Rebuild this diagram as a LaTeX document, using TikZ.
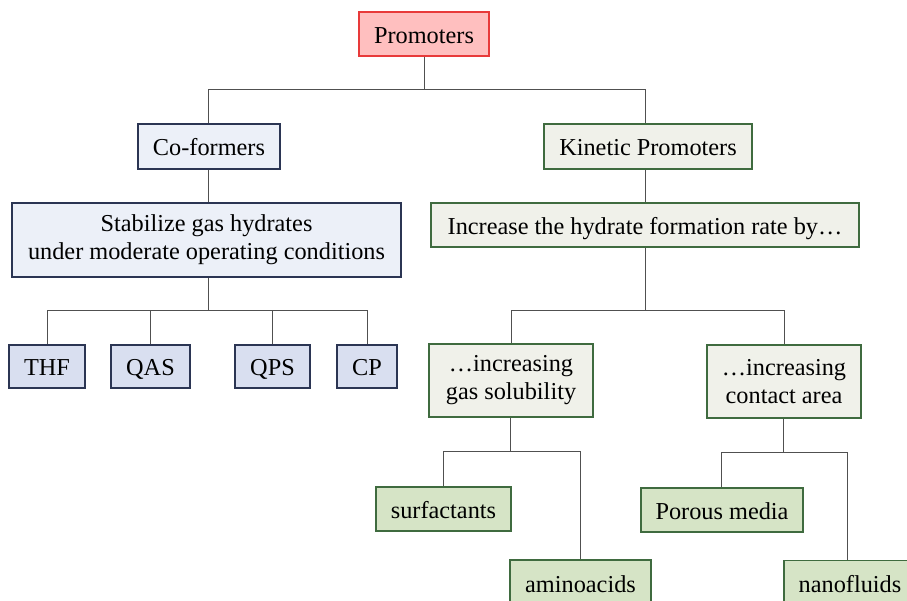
\documentclass[tikz,border=0pt]{standalone}
\usepackage{fontspec}
\setmainfont{Liberation Serif}
\definecolor{promfill}{HTML}{FFBFBF}
\definecolor{promdraw}{HTML}{E83A3A}
\definecolor{bluefill}{HTML}{ECF0F8}
\definecolor{blueleaf}{HTML}{D9DFF0}
\definecolor{bluedraw}{HTML}{2B3553}
\definecolor{greenfill}{HTML}{F0F1EA}
\definecolor{greenleaf}{HTML}{D6E4C6}
\definecolor{greendraw}{HTML}{3F6B3F}
\definecolor{linecol}{HTML}{505050}
\tikzset{
  box/.style={rectangle, inner sep=0pt, line width=1.2pt, align=center,
    font=\fontsize{24.3}{28}\selectfont},
  sl/.style={text height=20pt, text depth=2pt},
  prombox/.style={box, sl, fill=promfill, draw=promdraw},
  bluebox/.style={box, fill=bluefill, draw=bluedraw},
  blueleafbox/.style={box, sl, fill=blueleaf, draw=bluedraw},
  greenbox/.style={box, fill=greenfill, draw=greendraw},
  greenleafbox/.style={box, sl, fill=greenleaf, draw=greendraw},
  conn/.style={draw=linecol, line width=1pt}
}
\begin{document}
\begin{tikzpicture}[x=1pt,y=-1pt]
\useasboundingbox (0,0) rectangle (907,600);
\clip (0,0) rectangle (907,600);
\fill[white] (0,0) rectangle (907,600);
% nodes
\node[prombox, minimum width=130pt, minimum height=44pt] (prom) at (424,34) {Promoters};
\node[bluebox, sl, minimum width=142pt, minimum height=45pt] (cof) at (209,146.5) {Co-formers};
\node[bluebox, minimum width=389pt, minimum height=74pt] (stab) at (206.5,240) {Stabilize gas hydrates\\under moderate operating conditions};
\node[blueleafbox, minimum width=76pt, minimum height=43pt] (thf) at (47,366.5) {THF};
\node[blueleafbox, minimum width=79pt, minimum height=43pt] (qas) at (150.5,366.5) {QAS};
\node[blueleafbox, minimum width=75pt, minimum height=43pt] (qps) at (272.5,366.5) {QPS};
\node[blueleafbox, minimum width=60pt, minimum height=43pt] (cp) at (367,366.5) {CP};
\node[greenbox, sl, minimum width=208pt, minimum height=45pt] (kin) at (648,146.5) {Kinetic Promoters};
\node[greenbox, sl, minimum width=428pt, minimum height=44pt] (inc) at (645,225) {Increase the hydrate formation rate by…};
\node[greenbox, minimum width=164pt, minimum height=73pt] (sol) at (511,380.5) {…increasing\\gas solubility};
\node[greenbox, minimum width=154pt, minimum height=73pt] (con) at (784,381.5) {…increasing\\contact area};
\node[greenleafbox, minimum width=135pt, minimum height=44pt] (surf) at (443.5,509) {surfactants};
\node[greenleafbox, minimum width=141pt, minimum height=46pt] (amino) at (580.5,583) {aminoacids};
\node[greenleafbox, minimum width=162pt, minimum height=44pt] (por) at (722,510) {Porous media};
\node[greenleafbox, minimum width=132pt, minimum height=46pt] (nano) at (850,583.5) {nanofluids};
% bus coordinates
\coordinate (b1) at (424,89);
\coordinate (b2) at (208,310);
\coordinate (b3) at (645,310);
\coordinate (b4) at (510,451);
\coordinate (b5) at (783,452);
% connectors
\draw[conn] (prom.south) -- (b1);
\draw[conn] (b1) -| (b2 |- cof.north);
\draw[conn] (b1) -| (b3 |- kin.north);
\draw[conn] (b2 |- cof.south) -- (b2 |- stab.north);
\draw[conn] (b3 |- kin.south) -- (b3 |- inc.north);
\draw[conn] (b2 |- stab.south) -- (b2);
\draw[conn] (b2) -| (thf.north);
\draw[conn] (b2) -| (qas.north);
\draw[conn] (b2) -| (qps.north);
\draw[conn] (b2) -| (cp.north);
\draw[conn] (b3 |- inc.south) -- (b3);
\draw[conn] (b3) -| (sol.north);
\draw[conn] (b3) -| (con.north);
\draw[conn] (b4 |- sol.south) -- (b4);
\draw[conn] (b4) -| (surf.north);
\draw[conn] (b4) -| (amino.north);
\draw[conn] (b5 |- con.south) -- (b5);
\draw[conn] (b5) -| ([xshift=-1pt]por.north);
\draw[conn] (b5) -| ([xshift=-3pt]nano.north);
\end{tikzpicture}
\end{document}
